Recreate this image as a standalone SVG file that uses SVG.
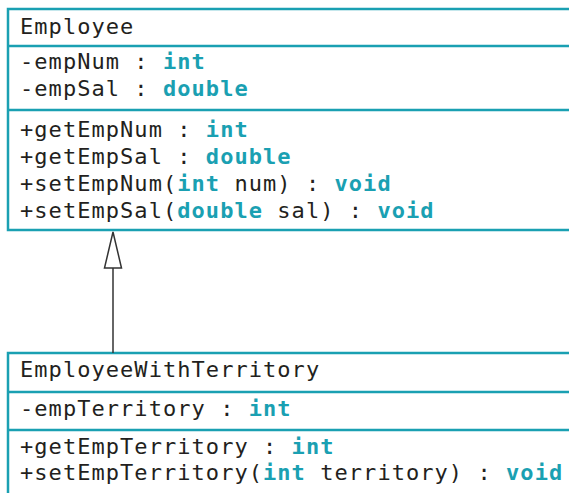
<svg xmlns="http://www.w3.org/2000/svg" width="569" height="493" viewBox="0 0 569 493">
<style>
.box{fill:#fff;stroke:#1aa0b2;stroke-width:2.5}
.div{stroke:#1aa0b2;stroke-width:2.5}
text{font-family:"DejaVu Sans Mono","Liberation Mono",monospace;font-size:22px;letter-spacing:1.05px;fill:#231f20}
.k{fill:#1aa0b2;font-weight:bold}
.conn{stroke:#333;stroke-width:1.5;fill:none}
.head{fill:#fff;stroke:#333;stroke-width:1.5}
</style>
<rect width="569" height="493" fill="#fff"/>
<g id="Employee">
<rect class="box" x="8" y="9" width="570" height="221"/>
<line class="div" x1="8" y1="46" x2="578" y2="46"/>
<line class="div" x1="8" y1="110" x2="578" y2="110"/>
<text x="20" y="34">Employee</text>
<text x="20" y="69">-empNum : <tspan class="k">int</tspan></text>
<text x="20" y="96">-empSal : <tspan class="k">double</tspan></text>
<text x="20" y="137">+getEmpNum : <tspan class="k">int</tspan></text>
<text x="20" y="164">+getEmpSal : <tspan class="k">double</tspan></text>
<text x="20" y="191">+setEmpNum(<tspan class="k">int</tspan> num) : <tspan class="k">void</tspan></text>
<text x="20" y="218">+setEmpSal(<tspan class="k">double</tspan> sal) : <tspan class="k">void</tspan></text>
</g>
<g id="EmployeeWithTerritory">
<rect class="box" x="8" y="353" width="570" height="150"/>
<line class="div" x1="8" y1="392" x2="578" y2="392"/>
<line class="div" x1="8" y1="430" x2="578" y2="430"/>
<text x="20" y="377">EmployeeWithTerritory</text>
<text x="20" y="416">-empTerritory : <tspan class="k">int</tspan></text>
<text x="20" y="454">+getEmpTerritory : <tspan class="k">int</tspan></text>
<text x="20" y="480">+setEmpTerritory(<tspan class="k">int</tspan> territory) : <tspan class="k">void</tspan></text>
</g>
<g id="connectors">
<line class="conn" x1="113" y1="268" x2="113" y2="353"/>
<polygon class="head" points="113,232 104.5,268 121.5,268"/>
</g>
</svg>
